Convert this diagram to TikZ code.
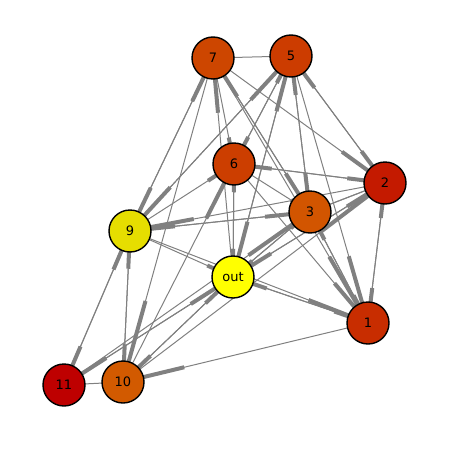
\documentclass[tikz,border=0pt]{standalone}
\usepackage{fontspec}
\setmainfont{DejaVu Sans}
\usetikzlibrary{calc,backgrounds}
\definecolor{c7}{RGB}{205,70,0}
\definecolor{c5}{RGB}{204,60,0}
\definecolor{c6}{RGB}{204,62,0}
\definecolor{c2}{RGB}{196,26,0}
\definecolor{c3}{RGB}{210,85,0}
\definecolor{c9}{RGB}{230,222,0}
\definecolor{cout}{RGB}{255,255,0}
\definecolor{c1}{RGB}{200,45,0}
\definecolor{c11}{RGB}{190,0,0}
\definecolor{c10}{RGB}{210,90,0}
\definecolor{edgegray}{RGB}{128,128,128}
\tikzset{
  vtx/.style={circle,draw=black,line width=1.4pt,minimum size=42pt,inner sep=0pt,font=\fontsize{13}{15}\selectfont},
  edgeline/.style={draw=edgegray,line width=1pt},
  headstub/.style={draw=edgegray,line width=4pt}
}
\begin{document}
\begin{tikzpicture}[x=1pt,y=-1pt]
\useasboundingbox (0,0) rectangle (450,450);
\node[vtx,fill=c7] (n7) at (213,58) {7};
\node[vtx,fill=c5] (n5) at (291,56) {5};
\node[vtx,fill=c6] (n6) at (234,164) {6};
\node[vtx,fill=c2] (n2) at (385,183) {2};
\node[vtx,fill=c3] (n3) at (310,212) {3};
\node[vtx,fill=c9] (n9) at (130,231) {9};
\node[vtx,fill=cout] (nout) at (233,277) {out};
\node[vtx,fill=c1] (n1) at (368,323) {1};
\node[vtx,fill=c11] (n11) at (64,385) {11};
\node[vtx,fill=c10] (n10) at (123,382) {10};
\begin{pgfonlayer}{background}
\foreach \s/\t in {
  7/5, 7/6, 7/9, 9/7, 7/3, 3/7, 7/2, out/7, 7/10, 7/1,
  5/6, 6/5, 5/9, 9/5, 5/out, out/5, 5/3, 3/5, 5/2, 2/5, 5/1,
  6/2, 2/6, 6/3, 9/6, 6/out, out/6, 6/1, 10/6,
  2/1, 1/2, 3/2, 2/3, 2/out, out/2, 2/9, 3/9, 9/3,
  3/1, 1/3, 3/out, out/3,
  9/out, 9/1, out/1, 1/out, 1/10,
  11/9, 9/11, 11/out, out/11, 11/3,
  10/9, 9/10, 10/out, out/10, 10/11, 10/2} {
  \draw[edgeline] (n\s.center) -- (n\t.center);
  \draw[headstub] ($(n\s.center)!0.75!(n\t.center)$) -- (n\t.center);
}
\end{pgfonlayer}
\end{tikzpicture}
\end{document}
